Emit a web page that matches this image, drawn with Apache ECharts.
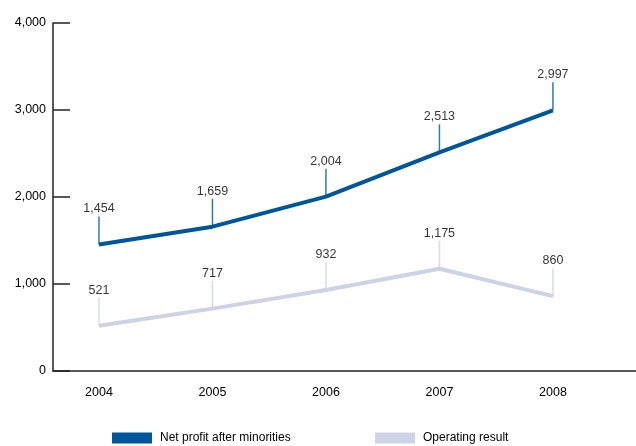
<!DOCTYPE html>
<html>
<head>
<meta charset="utf-8">
<script src="https://cdn.jsdelivr.net/npm/echarts@6/dist/echarts.min.js"></script>
<style>
    html, body { margin: 0; padding: 0; background: #fff; }
    #chart { width: 636px; height: 446px; }
</style>
</head>
<body>
<div id="chart"></div>
<script>
var years = [2004, 2005, 2006, 2007, 2008];
var netProfit = [1454, 1659, 2004, 2513, 2997];
var operatingResult = [521, 717, 932, 1175, 860];
var seriesNames = ['Net profit after minorities', 'Operating result'];

var darkBlue = '#00569a';
var lightBlue = '#cdd3e6';
var font = 'Liberation Sans';

function fmt(v) {
    return v.toLocaleString('en-US');
}

function pairs(values) {
    var out = [];
    for (var i = 0; i < years.length; i++) {
        out.push([years[i], values[i]]);
    }
    return out;
}

// little lead line with the value on top of it
function leadSeries(name, values, color) {
    return {
        name: name + ' labels',
        type: 'scatter',
        data: pairs(values),
        symbol: 'rect',
        symbolSize: [1.5, 28],
        symbolOffset: [0, -14],
        itemStyle: { color: color },
        z: 3,
        silent: true,
        label: {
            show: true,
            position: 'top',
            distance: 1,
            color: '#000',
            fontFamily: font,
            fontSize: 12.5,
            formatter: function (p) { return fmt(p.value[1]); }
        }
    };
}

function legendAt(name, left) {
    return {
        data: [name],
        left: left,
        top: 432,
        padding: 0,
        icon: 'rect',
        itemWidth: 40,
        itemHeight: 11,
        textStyle: {
            color: '#000',
            fontFamily: font,
            fontSize: 12,
            padding: [4, 0, 0, 3]
        }
    };
}

var option = {
    animation: false,
    grid: {
        left: 53,
        right: 0,
        top: 23,
        bottom: 75
    },
    legend: [
        legendAt(seriesNames[0], 112),
        legendAt(seriesNames[1], 375)
    ],
    xAxis: {
        type: 'value',
        min: 2003.595,
        max: 2008.732,
        splitLine: { show: false },
        axisTick: { show: false },
        axisLine: { lineStyle: { color: '#222', width: 1.5 } },
        axisLabel: {
            customValues: years,
            margin: 15,
            color: '#000',
            fontFamily: font,
            fontSize: 12.5,
            formatter: function (v) { return String(v); }
        }
    },
    yAxis: {
        type: 'value',
        min: 0,
        max: 4000,
        interval: 1000,
        splitLine: { show: false },
        axisLine: { show: true, lineStyle: { color: '#222', width: 1.5 } },
        axisTick: {
            show: true,
            inside: true,
            length: 17,
            lineStyle: { color: '#222', width: 1.5 }
        },
        axisLabel: {
            margin: 7,
            color: '#000',
            fontFamily: font,
            fontSize: 12.5,
            formatter: function (v) { return fmt(v); }
        }
    },
    series: [
        {
            name: seriesNames[0],
            type: 'line',
            data: pairs(netProfit),
            symbol: 'none',
            lineStyle: { color: darkBlue, width: 4 },
            itemStyle: { color: darkBlue },
            z: 2
        },
        {
            name: seriesNames[1],
            type: 'line',
            data: pairs(operatingResult),
            symbol: 'none',
            lineStyle: { color: lightBlue, width: 4 },
            itemStyle: { color: lightBlue },
            z: 2
        },
        leadSeries(seriesNames[0], netProfit, darkBlue),
        leadSeries(seriesNames[1], operatingResult, lightBlue)
    ]
};

var myChart = echarts.init(document.getElementById('chart'));
myChart.setOption(option);
</script>
</body>
</html>
